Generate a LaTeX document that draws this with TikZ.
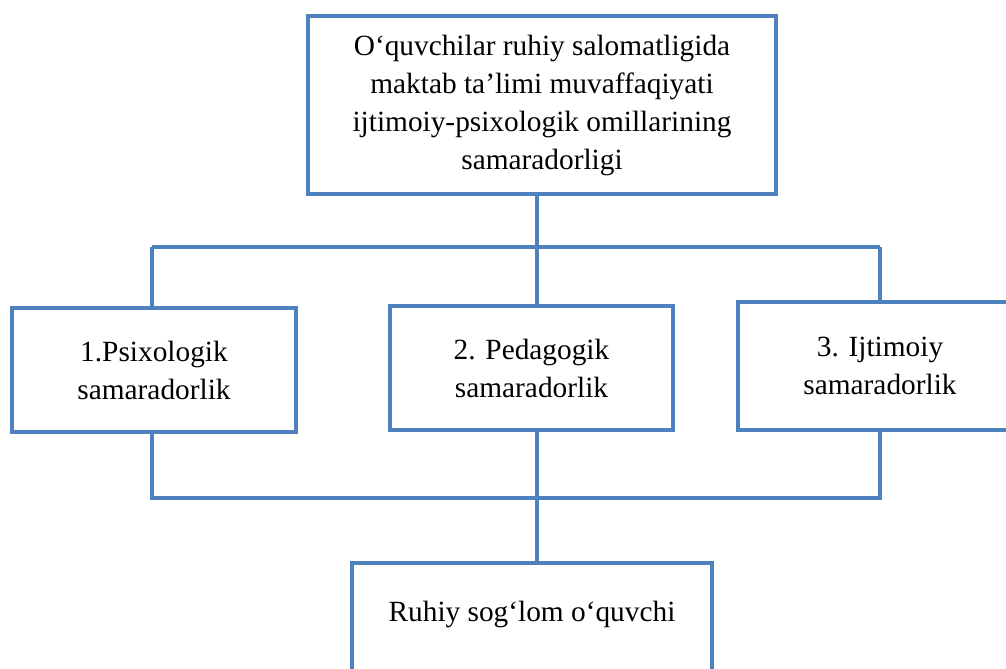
\documentclass[tikz,border=0pt]{standalone}
\usepackage{fontspec}
\setmainfont{Liberation Serif}
\usetikzlibrary{positioning}
\definecolor{boxblue}{RGB}{79,129,189}

\begin{document}
\begin{tikzpicture}[x=0.75pt,y=-0.75pt,
    box/.style={draw=boxblue, line width=3pt, fill=white, align=center,
        inner sep=0pt, font=\fontsize{22}{28.5}\selectfont},
    link/.style={draw=boxblue, line width=3pt}]
    \useasboundingbox (0,0) rectangle (1006,668);

    \node[box, minimum width=351pt, minimum height=133.5pt] (goal) at (542,105)
        {O‘quvchilar ruhiy salomatligida\\maktab ta’limi muvaffaqiyati\\ijtimoiy-psixologik omillarining\\samaradorligi};

    \node[box, minimum width=213pt, minimum height=93pt] (psy) at (154,370)
        {1.Psixologik\\samaradorlik};
    \node[box, minimum width=212pt, minimum height=93pt] (ped) at (531.5,368)
        {2. Pedagogik\\samaradorlik};
    \node[box, minimum width=213pt, minimum height=96pt] (soc) at (880,366)
        {3. Ijtimoiy\\samaradorlik};

    \node[box, align=none, anchor=north, minimum width=270pt,
        text height=44pt, text depth=70pt] (pupil) at (532,561)
        {Ruhiy sog‘lom o‘quvchi};

    \coordinate (topL) at (152,247);
    \coordinate (topM) at (537,247);
    \coordinate (topR) at (880,247);
    \coordinate (botL) at (152,498);
    \coordinate (botM) at (537,498);
    \coordinate (botR) at (880,498);

    \draw[link] (goal.south -| topM) -- (topM);
    \draw[link] (topL) -- (topR);
    \draw[link] (topL) -- (topL |- psy.north);
    \draw[link] (topM) -- (topM |- ped.north);
    \draw[link] (topR) -- (topR |- soc.north);

    \draw[link] (botL |- psy.south) -- (botL) -- (botR) -- (botR |- soc.south);
    \draw[link] (botM |- ped.south) -- (botM);
    \draw[link] (botM) -- (botM |- pupil.north);
\end{tikzpicture}
\end{document}
